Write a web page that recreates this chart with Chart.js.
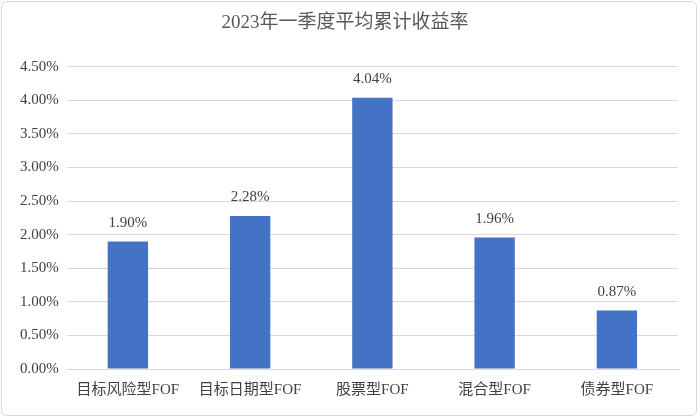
<!DOCTYPE html>
<html><head><meta charset="utf-8">
<script src="https://cdn.jsdelivr.net/npm/chart.js@4/dist/chart.umd.min.js"></script>
<style>
html,body{margin:0;padding:0;background:#fff}
#wrap{position:absolute;left:1px;top:1px;width:696px;height:415px;border:1px solid #d9d9d9;border-radius:6px;box-sizing:border-box}
</style></head><body>
<div id="wrap"><canvas id="c" width="694" height="413"></canvas></div>
<script>
const categories = ["目标风险型FOF", "目标日期型FOF", "股票型FOF", "混合型FOF", "债券型FOF"];
const returns = [1.90, 2.28, 4.04, 1.96, 0.87];
const titleText = "2023年一季度平均累计收益率";

const font = "'Liberation Serif', 'Noto Sans CJK SC', serif";

const labelPlugin = {
  id: "labels",
  afterDatasetsDraw(chart) {
    const ctx = chart.ctx;
    const meta = chart.getDatasetMeta(0);
    ctx.save();
    ctx.font = "15px " + font;
    ctx.fillStyle = "#404040";
    ctx.textAlign = "center";
    ctx.textBaseline = "bottom";
    meta.data.forEach((bar, i) => {
      ctx.fillText(returns[i].toFixed(2) + "%", bar.x, bar.y - 11);
    });
    ctx.restore();
  }
};

new Chart(document.getElementById("c"), {
  type: "bar",
  data: {
    labels: categories,
    datasets: [{ data: returns, backgroundColor: "#4472C4", barPercentage: 0.33, categoryPercentage: 1 }]
  },
  options: {
    responsive: false,
    animation: false,
    layout: { padding: { left: 10, right: 18, top: 0, bottom: 12 } },
    plugins: {
      legend: { display: false },
      tooltip: { enabled: false },
      title: { display: true, text: titleText, color: "#595959", font: { family: font, size: 19, weight: "normal" }, padding: { top: 10, bottom: 32 } }
    },
    scales: {
      y: {
        min: 0, max: 4.5,
        ticks: { stepSize: 0.5, padding: 8, color: "#404040", font: { family: font, size: 15 }, callback: v => v.toFixed(2) + "%" },
        grid: { color: "#d9d9d9", drawTicks: false },
        border: { display: false }
      },
      x: {
        ticks: { color: "#404040", padding: 4, font: { family: font, size: 15 } },
        grid: { display: false },
        border: { color: "#d9d9d9" }
      }
    }
  },
  plugins: [labelPlugin]
});
</script>
</body></html>
